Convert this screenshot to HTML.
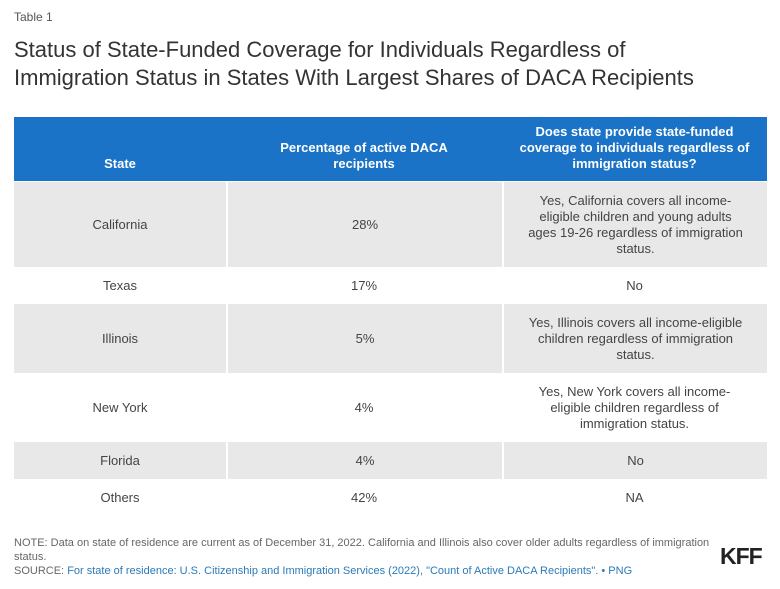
<!DOCTYPE html>
<html><head><meta charset="utf-8"><style>
*{margin:0;padding:0;box-sizing:border-box}
body{width:780px;height:589px;background:#fff;font-family:"Liberation Sans",sans-serif;position:relative;overflow:hidden;color:#333}
.a{position:absolute}
.row{position:absolute;left:14px;width:753px;display:flex}
.row div{display:flex;align-items:center;justify-content:center;text-align:center;font-size:13px;line-height:16px;color:#444}
.c1{width:212px}.c2{width:276px}.c3{width:265px;padding:0 24px}
.g{background:#e8e8e8}.g div+div{border-left:2px solid #fff}
.h{background:#1a73c6}.h div{color:#fff!important;font-weight:bold;align-items:flex-end!important;padding-bottom:9px}
</style></head><body>
<div class="a" style="left:14px;top:10px;font-size:12px;color:#555">Table 1</div>
<div class="a" style="left:14px;top:36px;font-size:22px;line-height:28px;color:#333;width:700px">Status of State-Funded Coverage for Individuals Regardless of Immigration Status in States With Largest Shares of DACA Recipients</div>
<div class="row h" style="top:117px;height:64px"><div class="c1">State</div><div class="c2">Percentage of active DACA<br>recipients</div><div class="c3" style="padding:0 14px 9px">Does state provide state-funded coverage to individuals regardless of immigration status?</div></div>
<div class="row g" style="top:182px;height:85px"><div class="c1">California</div><div class="c2">28%</div><div class="c3">Yes, California covers all income-eligible children and young adults ages 19-26 regardless of immigration status.</div></div>
<div class="row" style="top:267px;height:37px"><div class="c1">Texas</div><div class="c2">17%</div><div class="c3">No</div></div>
<div class="row g" style="top:304px;height:69px"><div class="c1">Illinois</div><div class="c2">5%</div><div class="c3">Yes, Illinois covers all income-eligible children regardless of immigration status.</div></div>
<div class="row" style="top:373px;height:69px"><div class="c1">New York</div><div class="c2">4%</div><div class="c3" style="padding:0 30px">Yes, New York covers all income-eligible children regardless of immigration status.</div></div>
<div class="row g" style="top:442px;height:37px"><div class="c1">Florida</div><div class="c2">4%</div><div class="c3">No</div></div>
<div class="row" style="top:479px;height:37px"><div class="c1">Others</div><div class="c2">42%</div><div class="c3">NA</div></div>
<div class="a" style="left:14px;top:536px;width:700px;font-size:11px;line-height:14px;color:#666">NOTE: Data on state of residence are current as of December 31, 2022. California and Illinois also cover older adults regardless of immigration status.<br>SOURCE: <span style="color:#2a7ab8">For state of residence: U.S. Citizenship and Immigration Services (2022), "Count of Active DACA Recipients". • PNG</span></div>
<div class="a" style="left:720px;top:543px;font-size:23px;font-weight:bold;color:#222;letter-spacing:-1px">KFF</div>
</body></html>
